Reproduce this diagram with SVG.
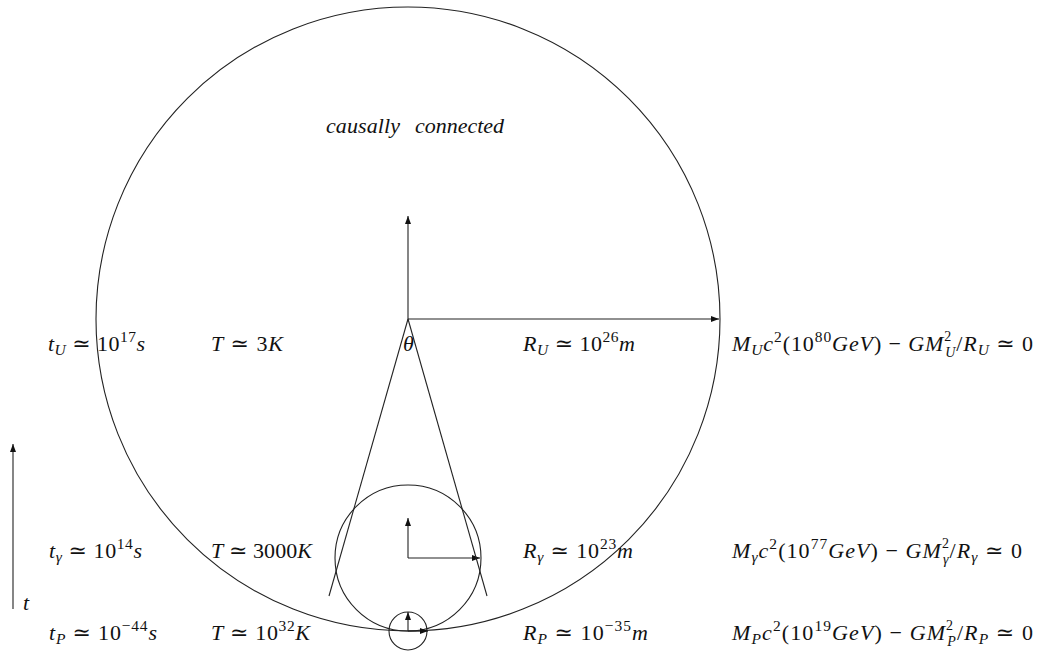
<svg xmlns="http://www.w3.org/2000/svg" width="1041" height="652" viewBox="0 0 1041 652">
<defs>
<style>
.ln{fill:none;stroke:#222;stroke-width:1.1}
.ar{fill:none;stroke:#222;stroke-width:1.1;marker-end:url(#ah)}
text{font-family:"Liberation Serif","DejaVu Serif",serif;font-size:22px;fill:#111}
.i{font-style:italic}
.s{font-size:15.5px}
.ss{font-size:14px}
</style>
<marker id="ah" markerUnits="userSpaceOnUse" markerWidth="9" markerHeight="7" refX="8" refY="3" orient="auto">
<path d="M0,0 L8,3 L0,6 Z" fill="#111"/>
</marker>
</defs>
<rect width="1041" height="652" fill="#fff"/>

<g id="universe">
<circle class="ln" cx="408" cy="319" r="312"/>
<line class="ar" x1="408" y1="319" x2="408" y2="216"/>
<line class="ar" x1="408" y1="319" x2="719" y2="319"/>
</g>
<g id="recombination">
<circle class="ln" cx="408" cy="558" r="73"/>
<line class="ar" x1="408" y1="558" x2="408" y2="518"/>
<line class="ar" x1="408" y1="558" x2="480" y2="558"/>
</g>
<g id="planck">
<circle class="ln" cx="408" cy="631" r="19"/>
<line class="ar" x1="408" y1="631" x2="408" y2="612"/>
<line class="ar" x1="408" y1="631" x2="428" y2="631"/>
</g>
<g id="connectors">
<line class="ln" x1="408" y1="319" x2="329" y2="596"/>
<line class="ln" x1="408" y1="319" x2="487" y2="596"/>
<line class="ar" x1="13" y1="609" x2="13" y2="444"/>
</g>

<g id="labels-top">
<text class="i" x="326" y="133" textLength="74">causally</text>
<text class="i" x="415" y="133" textLength="89">connected</text>
<text class="i" x="23" y="610">t</text>
<text class="i" x="403" y="351">θ</text>
</g>

<g id="row-universe">
<text x="48" y="351" textLength="97"><tspan class="i">t</tspan><tspan class="s i" dy="4">U</tspan><tspan dy="-4"> ≃ 10</tspan><tspan class="s" dy="-9">17</tspan><tspan class="i" dy="9">s</tspan></text>
<text x="211" y="351" textLength="72"><tspan class="i">T</tspan><tspan> ≃ 3</tspan><tspan class="i">K</tspan></text>
<text x="523" y="351" textLength="112"><tspan class="i">R</tspan><tspan class="s i" dy="4">U</tspan><tspan dy="-4"> ≃ 10</tspan><tspan class="s" dy="-9">26</tspan><tspan class="i" dy="9">m</tspan></text>
<text x="732" y="351" textLength="301"><tspan class="i">M</tspan><tspan class="s i" dy="4">U</tspan><tspan class="i" dy="-4">c</tspan><tspan class="s" dy="-9">2</tspan><tspan dy="9">(10</tspan><tspan class="s" dy="-9">80</tspan><tspan class="i" dy="9">GeV</tspan><tspan>) − </tspan><tspan class="i">GM</tspan><tspan class="ss" dy="-10">2</tspan><tspan class="ss i" dx="-7" dy="16">U</tspan><tspan dy="-6">/</tspan><tspan class="i">R</tspan><tspan class="s i" dy="4">U</tspan><tspan dy="-4"> ≃ 0</tspan></text>
</g>

<g id="row-recombination">
<text x="49" y="558" textLength="93"><tspan class="i">t</tspan><tspan class="s i" dy="4">γ</tspan><tspan dy="-4"> ≃ 10</tspan><tspan class="s" dy="-9">14</tspan><tspan class="i" dy="9">s</tspan></text>
<text x="211" y="558" textLength="101"><tspan class="i">T</tspan><tspan> ≃ 3000</tspan><tspan class="i">K</tspan></text>
<text x="523" y="558" textLength="110"><tspan class="i">R</tspan><tspan class="s i" dy="4">γ</tspan><tspan dy="-4"> ≃ 10</tspan><tspan class="s" dy="-9">23</tspan><tspan class="i" dy="9">m</tspan></text>
<text x="732" y="558" textLength="290"><tspan class="i">M</tspan><tspan class="s i" dy="4">γ</tspan><tspan class="i" dy="-4">c</tspan><tspan class="s" dy="-9">2</tspan><tspan dy="9">(10</tspan><tspan class="s" dy="-9">77</tspan><tspan class="i" dy="9">GeV</tspan><tspan>) − </tspan><tspan class="i">GM</tspan><tspan class="ss" dy="-10">2</tspan><tspan class="ss i" dx="-7" dy="16">γ</tspan><tspan dy="-6">/</tspan><tspan class="i">R</tspan><tspan class="s i" dy="4">γ</tspan><tspan dy="-4"> ≃ 0</tspan></text>
</g>

<g id="row-planck">
<text x="49" y="640" textLength="108"><tspan class="i">t</tspan><tspan class="s i" dy="4">P</tspan><tspan dy="-4"> ≃ 10</tspan><tspan class="s" dy="-9">−44</tspan><tspan class="i" dy="9">s</tspan></text>
<text x="211" y="640" textLength="99"><tspan class="i">T</tspan><tspan> ≃ 10</tspan><tspan class="s" dy="-9">32</tspan><tspan class="i" dy="9">K</tspan></text>
<text x="523" y="640" textLength="125"><tspan class="i">R</tspan><tspan class="s i" dy="4">P</tspan><tspan dy="-4"> ≃ 10</tspan><tspan class="s" dy="-9">−35</tspan><tspan class="i" dy="9">m</tspan></text>
<text x="732" y="640" textLength="301"><tspan class="i">M</tspan><tspan class="s i" dy="4">P</tspan><tspan class="i" dy="-4">c</tspan><tspan class="s" dy="-9">2</tspan><tspan dy="9">(10</tspan><tspan class="s" dy="-9">19</tspan><tspan class="i" dy="9">GeV</tspan><tspan>) − </tspan><tspan class="i">GM</tspan><tspan class="ss" dy="-10">2</tspan><tspan class="ss i" dx="-7" dy="16">P</tspan><tspan dy="-6">/</tspan><tspan class="i">R</tspan><tspan class="s i" dy="4">P</tspan><tspan dy="-4"> ≃ 0</tspan></text>
</g>
</svg>
